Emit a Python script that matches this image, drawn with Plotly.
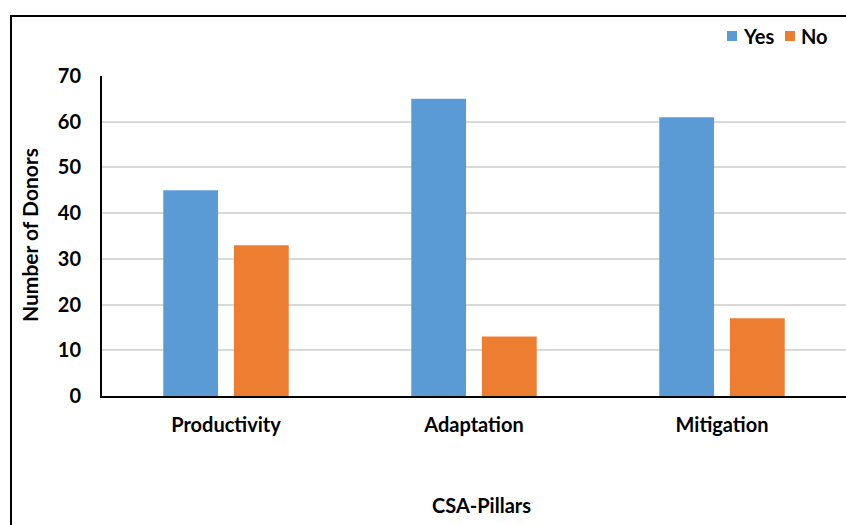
import plotly.graph_objects as go

categories = ["Productivity", "Adaptation", "Mitigation"]
yes_values = [45, 65, 61]
no_values = [33, 13, 17]
y_ticks = [0, 10, 20, 30, 40, 50, 60, 70]
series_names = ["Yes", "No"]

FONT = "Lato"
BLUE = "#5B9BD5"
ORANGE = "#ED7D31"
COLORS = [BLUE, ORANGE]

fig = go.Figure()
fig.add_trace(go.Bar(name=series_names[0], x=categories, y=yes_values, marker_color=BLUE,
                     marker_line_width=0, showlegend=False))
fig.add_trace(go.Bar(name=series_names[1], x=categories, y=no_values, marker_color=ORANGE,
                     marker_line_width=0, showlegend=False))

L, T, R, B = 102, 76, 0, 129
W, H = 846, 525
pw = W - L - R
ph = H - T - B

def px2x(px):
    return (px - L) / pw

def py2y(py):
    return (H - B - py) / ph

TICKFONT = dict(family=FONT, size=20, color="#000000", weight="bold")

fig.update_layout(
    width=W, height=H,
    margin=dict(l=L, r=R, t=T, b=B, autoexpand=False),
    paper_bgcolor="white", plot_bgcolor="white",
    barmode="group", bargap=0.43, bargroupgap=0.225,
    font=dict(family=FONT, size=20, color="#000000"),
    showlegend=False,
    xaxis=dict(showline=True, linecolor="#000000", linewidth=2, showgrid=False,
               ticks="", tickfont=TICKFONT, ticklabelstandoff=10),
    yaxis=dict(range=[0, 70], tickvals=y_ticks, showline=True, linecolor="#000000", linewidth=2,
               showgrid=True, gridcolor="#D9D9D9", gridwidth=1.5, zeroline=False,
               ticks="", tickfont=TICKFONT, ticklabelstandoff=15),
)

fig.add_annotation(text="<b>CSA-Pillars</b>", xref="paper", yref="paper",
                   x=px2x(481), y=py2y(505), xanchor="center", yanchor="middle", showarrow=False,
                   font=dict(family=FONT, size=20, color="#000000"))
fig.add_annotation(text="<b>Number of Donors</b>", xref="paper", yref="paper",
                   x=px2x(29), y=py2y(235), xanchor="center", yanchor="middle",
                   showarrow=False, textangle=-90,
                   font=dict(family=FONT, size=21, color="#000000"))

# Legend (drawn manually to match compact spacing)
legend_sq_px = [727, 785]
for name, color, sx in zip(series_names, COLORS, legend_sq_px):
    fig.add_shape(type="rect", xref="paper", yref="paper",
                  x0=px2x(sx), x1=px2x(sx + 10), y0=py2y(41), y1=py2y(31),
                  line=dict(width=0), fillcolor=color)
    fig.add_annotation(text="<b>%s</b>" % name, xref="paper", yref="paper",
                       x=px2x(sx + 14), y=py2y(36), xanchor="left", yanchor="middle",
                       showarrow=False, font=dict(family=FONT, size=20, color="#000000"))

fig.add_shape(type="rect", xref="paper", yref="paper",
              x0=px2x(11), x1=px2x(860), y0=py2y(540), y1=py2y(16),
              line=dict(color="#000000", width=2), fillcolor="rgba(0,0,0,0)", layer="above")

fig.write_html("out.html")
